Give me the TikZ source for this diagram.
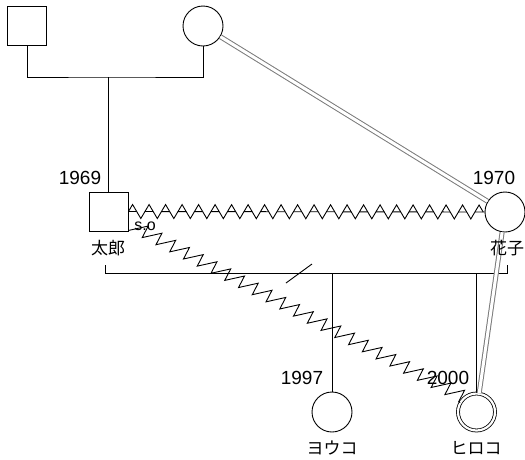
\documentclass[tikz,border=0pt]{standalone}
\usepackage{fontspec}
\setmainfont{Liberation Sans}
\newfontfamily\jpfont{Noto Sans CJK JP}
\usetikzlibrary{decorations.pathmorphing}
\definecolor{mline}{HTML}{7A7A7A}

\begin{document}
\begin{tikzpicture}[x=1pt,y=-1pt,line width=0.9pt,
  male/.style={draw,rectangle,minimum size=39pt,inner sep=0pt},
  female/.style={draw,circle,minimum size=40pt,inner sep=0pt},
  yearlbl/.style={font=\fontsize{19}{22}\selectfont},
  namelbl/.style={font=\jpfont\fontsize{17}{20}\selectfont},
  dbl/.style={draw=mline,double=white,double distance=3pt,line width=1pt},
  zzline/.style={decorate,decoration={zigzag,segment length=16.5pt,amplitude=7pt}},
  sawline/.style={decorate,decoration={saw,segment length=15.5pt,amplitude=13pt}}]
  \useasboundingbox (0,0) rectangle (525,459);

  % grandparents
  \node[male] (gfather) at (27,26) {};
  \node[female] (gmother) at (203,26) {};
  \coordinate (gbar) at (108.5,77);
  \draw (gfather.south) |- (gbar) -| (gmother.south);

  % couple
  \node[male] (taro) at (108.5,211.5) {};
  \node[female] (hanako) at (505,212) {};
  \draw (gbar) -- (taro.north);
  \draw[dbl] (gmother) -- (hanako);

  % zigzag between the couple
  \draw[zzline] (taro.east) -- (hanako.west);
  \draw[dash pattern=on 8.25pt off 8.25pt] (taro.east) -- (hanako.west);

  % children
  \node[female] (yoko) at (332,412) {};
  \node[draw,circle,minimum size=37pt,inner sep=0pt,double,double distance=2.2pt,line width=0.8pt] (hiroko) at (476.5,412) {};

  % sibship line
  \coordinate (sibl) at (105,273);
  \coordinate (sibr) at (507,273);
  \coordinate (siblt) at (105,265);
  \coordinate (sibrt) at (507,265);
  \draw (siblt) -- (sibl) -- (sibr) -- (sibrt);
  \draw (yoko.north |- sibl) -- (yoko.north);
  \draw (hiroko.north |- sibl) -- (hiroko.north);
  \coordinate (cutA) at (286,283);
  \coordinate (cutB) at (312,264);
  \draw (cutA) -- (cutB);

  \draw[dbl] (hanako) -- (hiroko);
  \draw[sawline] ([yshift=1pt]taro.south east) -- (hiroko.150);

  % labels
  \node[yearlbl] (y1969) at (80,178) {1969};
  \node[yearlbl] (y1970) at (494,178) {1970};
  \node[yearlbl] (y1997) at (302,378) {1997};
  \node[yearlbl] (y2000) at (448,378) {2000};
  \node[font=\fontsize{16}{18}\selectfont] (so) at (145,226) {s.o};
  \node[namelbl] (taroname) at (108,248) {太郎};
  \node[namelbl] (hanakoname) at (507,248) {花子};
  \node[namelbl] (yokoname) at (332,448) {ヨウコ};
  \node[namelbl] (hirokoname) at (476,448) {ヒロコ};
\end{tikzpicture}
\end{document}
